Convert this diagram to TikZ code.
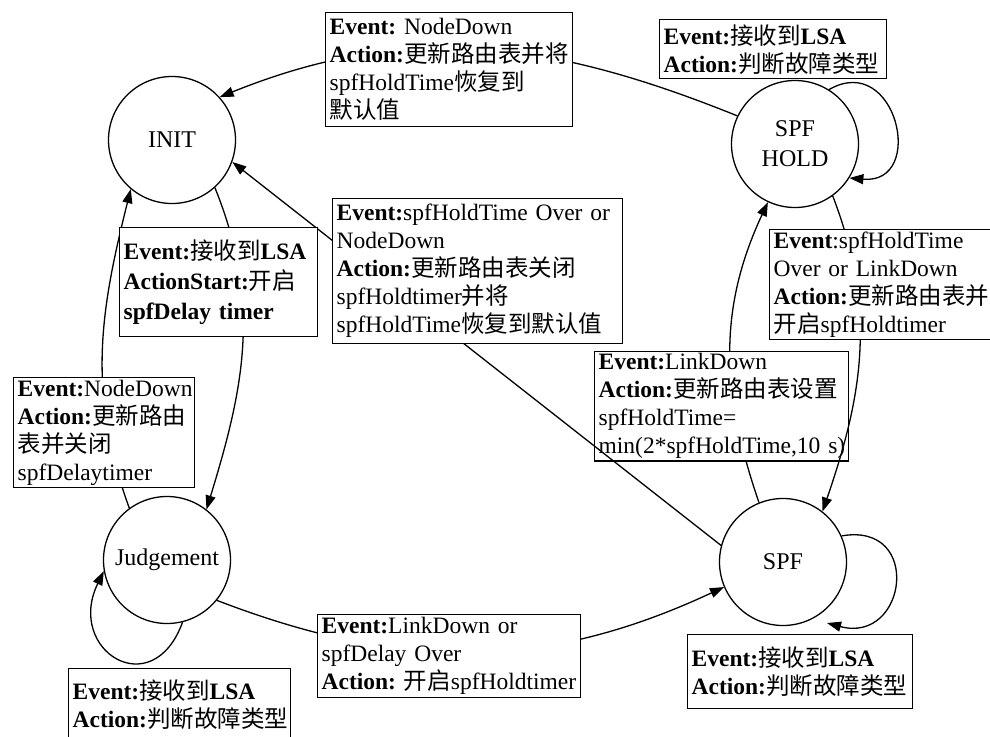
\documentclass[tikz,border=0pt]{standalone}
\usepackage{fontspec}
\setmainfont{Liberation Serif}
\newfontfamily\cjk{Noto Sans CJK SC}
\usetikzlibrary{arrows.meta}
\newcommand\zh[1]{{\cjk #1}}
\newcommand\Lk[1]{\mbox{#1}}
\frenchspacing
\begin{document}
\begin{tikzpicture}[x=1pt,y=1pt,
  state/.style={circle,draw,line width=1.3pt,minimum size=127pt,inner sep=0pt,align=center,font=\fontsize{24}{30}\selectfont},
  lbl/.style={draw,fill=white,line width=1.3pt,anchor=north west,align=left,inner xsep=4pt,inner ysep=2pt,font=\fontsize{23.5}{28}\selectfont\frenchspacing},
  conn/.style={line width=1.3pt},
  arr/.style={conn,-{Triangle[length=14pt,width=10pt]}}]
\fill[white] (0,0) rectangle (990,-736);
\useasboundingbox (0,0) rectangle (990,-736);
\clip (0,0) rectangle (990,-736);
% states
\node[state] (init) at (172,-140) {INIT};
\node[state] (hold) at (795,-144) {SPF\\HOLD};
\node[state] (judg) at (167,-560) {Judgement};
\node[state] (spf) at (783,-562) {SPF};
\coordinate (spfin) at (827,-623);
% connectors behind boxes
\draw[arr] (spf.112) to[out=109,in=245] (hold.245);
\draw[arr] (hold.154) to[out=158,in=22] (init.42);
\draw[arr] (hold.58) to[out=30,in=-5,looseness=2.2] (hold.-32);
\draw[arr] (init.-48) to[out=-68,in=73] (judg.52);
\draw[arr] (judg.126) to[out=110,in=256] (init.230);
\draw[arr] (spf.24) to[out=10,in=-15,looseness=2.4] (spfin);
\draw[arr] (judg.-39) to[out=-21,in=205] (spf.203);
\draw[arr] (judg.-76) to[out=-110,in=244,looseness=2.4] (judg.190);
% LinkDown box
\node[lbl,text width=246pt,minimum height=106pt] (linkb) at (594,-351)
  {\Lk{\textbf{Event:}LinkDown}\\\Lk{\textbf{Action:}\zh{更新路由表设置}}\\\Lk{spfHoldTime=}\\\Lk{min(2*spfHoldTime,10 s)}};
\draw[arr] (spf.165) -- (init.-20);
\draw[arr] (hold.-54) to[out=-69,in=71] (spf.52);
% other boxes
\node[lbl,text width=239pt,minimum height=114pt] (topb) at (325,-12)
  {\Lk{\textbf{Event:} NodeDown}\\\Lk{\textbf{Action:}\zh{更新路由表并将}}\\\Lk{spfHoldTime\zh{恢复到}}\\\Lk{\zh{默认值}}};
\node[lbl,text width=219pt,minimum height=59pt] (holdloopb) at (659,-19)
  {\Lk{\textbf{Event:}\zh{接收到}\textbf{LSA}}\\\Lk{\textbf{Action:}\zh{判断故障类型}}};
\node[lbl,text width=190pt,minimum height=109pt,font=\fontsize{23.5}{30}\selectfont] (initjb) at (119,-227)
  {\Lk{\textbf{Event:}\zh{接收到}\textbf{LSA}}\\\Lk{\textbf{ActionStart:}\zh{开启}}\\\Lk{\textbf{spfDelay timer}}};
\node[lbl,text width=282pt,minimum height=145pt] (centb) at (332,-198)
  {\Lk{\textbf{Event:}spfHoldTime Over or}\\\Lk{NodeDown}\\\Lk{\textbf{Action:}\zh{更新路由表关闭}}\\\Lk{spfHoldtimer\zh{并将}}\\\Lk{spfHoldTime\zh{恢复到默认值}}};
\node[lbl,text width=236pt,minimum height=104pt] (rightb) at (769,-229)
  {\Lk{\textbf{Event}:spfHoldTime}\\\Lk{Over or LinkDown}\\\Lk{\textbf{Action:}\zh{更新路由表并}}\\\Lk{\zh{开启}spfHoldtimer}};
\node[lbl,text width=173pt,minimum height=110pt] (leftb) at (13,-377)
  {\Lk{\textbf{Event:}NodeDown}\\\Lk{\textbf{Action:}\zh{更新路由}}\\\Lk{\zh{表并关闭}}\\\Lk{spfDelaytimer}};
\node[lbl,text width=214pt,minimum height=72pt] (judgloopb) at (68,-668)
  {\Lk{\textbf{Event:}\zh{接收到}\textbf{LSA}}\\\Lk{\textbf{Action:}\zh{判断故障类型}}};
\node[lbl,text width=255pt,minimum height=83pt] (midb) at (317,-614)
  {\Lk{\textbf{Event:}LinkDown or}\\\Lk{spfDelay Over}\\\Lk{\textbf{Action:} \zh{开启}spfHoldtimer}};
\node[lbl,text width=217pt,minimum height=74pt] (spfloopb) at (687,-634)
  {\Lk{\textbf{Event:}\zh{接收到}\textbf{LSA}}\\\Lk{\textbf{Action:}\zh{判断故障类型}}};
\end{tikzpicture}
\end{document}
